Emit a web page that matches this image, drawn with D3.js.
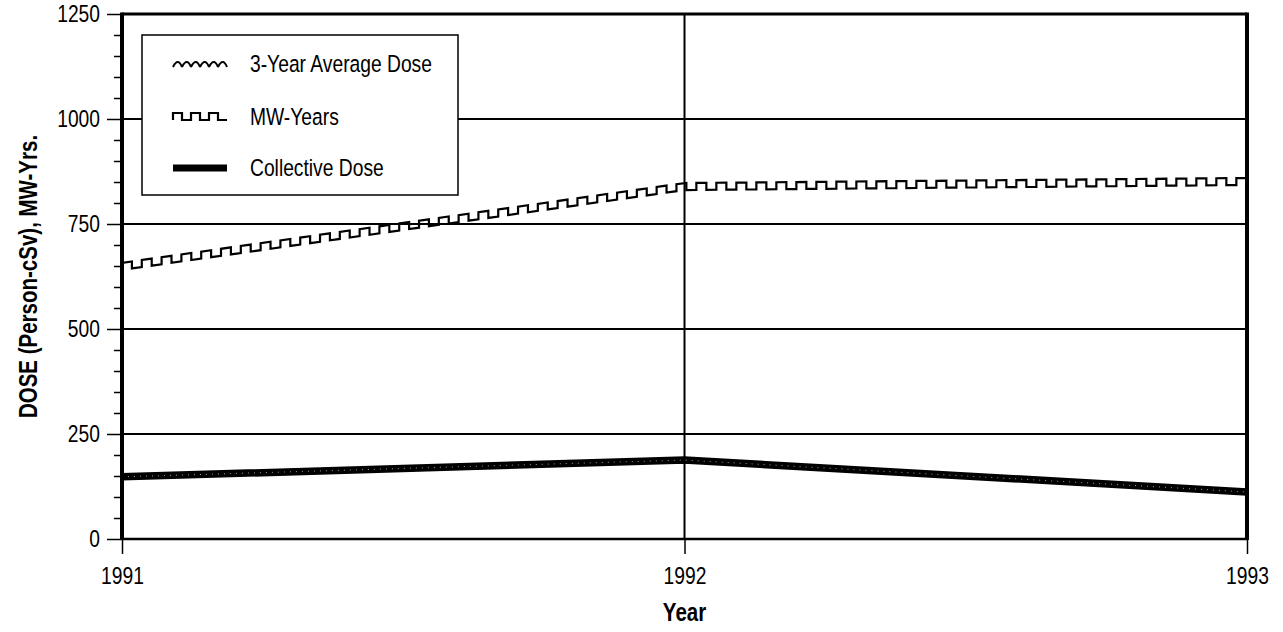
<!DOCTYPE html>
<html>
<head>
<meta charset="utf-8">
<script src="https://cdn.jsdelivr.net/npm/d3@7"></script>
<style>
  body { margin: 0; background: #fff; }
  text { font-family: "Liberation Sans", Arial, sans-serif; fill: #000; }
</style>
</head>
<body>
<div id="chart-area"></div>
<script>
// data
let years = [1991, 1992, 1993];
let collectiveDose = [148, 188, 112];
let mwYears = [648, 838, 850];
let threeYearAvg = [];   // not visible on the chart
let yTicks = [0, 250, 500, 750, 1000, 1250];
let yMinorTicks = d3.range(0, 1251, 50).filter(function(d){ return d % 250 !== 0; });
let legendLabels = ["3-Year Average Dose", "MW-Years", "Collective Dose"];

let width = 1283;
let height = 632;
let narrow = 0.82;   // no narrow face installed, squeeze the text instead

let svg = d3.select("#chart-area")
            .append("svg")
            .attr("width", width)
            .attr("height", height);

let x = d3.scaleLinear().domain([1991, 1993]).range([122, 1247]);
let y = d3.scaleLinear().domain([0, 1250]).range([539, 14]);

// gridlines
svg.append("g")
   .selectAll("line")
   .data(yTicks.filter(function(d){ return d > 0 && d < 1250; }))
   .enter()
   .append("line")
   .attr("x1", x(1991)).attr("x2", x(1993))
   .attr("y1", function(d){ return y(d); })
   .attr("y2", function(d){ return y(d); })
   .attr("stroke", "#000").attr("stroke-width", 2);

svg.append("g")
   .selectAll("line")
   .data([1992])
   .enter()
   .append("line")
   .attr("x1", function(d){ return x(d); })
   .attr("x2", function(d){ return x(d); })
   .attr("y1", y(1250)).attr("y2", y(0))
   .attr("stroke", "#000").attr("stroke-width", 2);

// frame: top and right
svg.append("line").attr("x1", x(1991)).attr("x2", x(1993)).attr("y1", y(1250)).attr("y2", y(1250))
   .attr("stroke", "#000").attr("stroke-width", 3);
svg.append("line").attr("x1", x(1993)).attr("x2", x(1993)).attr("y1", y(1250) - 1.5).attr("y2", y(0) + 1)
   .attr("stroke", "#000").attr("stroke-width", 4);

let line = d3.line()
             .x(function(d, i){ return x(years[i]); })
             .y(function(d){ return y(d); });

// square-wave decoration that follows a path
function squareWave(pathNode, period, amp) {
    let L = pathNode.getTotalLength();
    let h = period / 2;
    let p0 = pathNode.getPointAtLength(0);
    let s = "M" + p0.x + "," + p0.y;
    for (let k = 0; k * h < L; k++) {
        let a = pathNode.getPointAtLength(k * h);
        let b = pathNode.getPointAtLength(Math.min((k + 1) * h, L));
        if (k % 2 === 0) {
            s += "L" + a.x + "," + (a.y - amp) + "L" + b.x + "," + (b.y - amp) + "L" + b.x + "," + b.y;
        } else {
            s += "L" + b.x + "," + b.y;
        }
    }
    return s;
}

// MW-Years
let mwBase = svg.append("path")
   .attr("d", line(mwYears))
   .attr("fill", "none")
   .attr("stroke", "none");
svg.append("path")
   .attr("d", squareWave(mwBase.node(), 20, 7))
   .attr("transform", "translate(0,3)")
   .attr("fill", "none")
   .attr("stroke", "#000")
   .attr("stroke-width", 2.2);

// 3-year average (no visible points)
if (threeYearAvg.length) {
    svg.append("path").attr("d", line(threeYearAvg)).attr("fill", "none").attr("stroke", "#000");
}

// Collective dose
svg.append("path")
   .attr("d", line(collectiveDose))
   .attr("fill", "none")
   .attr("stroke", "#000")
   .attr("stroke-width", 7.5);
svg.append("path")
   .attr("d", line(collectiveDose))
   .attr("fill", "none")
   .attr("stroke", "#fff")
   .attr("stroke-width", 1)
   .attr("stroke-dasharray", "1 5")
   .attr("opacity", 0.6);

// legend
let legend = svg.append("g");
legend.append("rect")
      .attr("x", 142).attr("y", 35)
      .attr("width", 316).attr("height", 160)
      .attr("fill", "#fff")
      .attr("stroke", "#000")
      .attr("stroke-width", 1.5);

let rowY = [64, 117, 168];
legend.selectAll("text")
      .data(legendLabels)
      .enter()
      .append("text")
      .attr("transform", function(d, i){ return "translate(250," + (rowY[i] + 8) + ") scale(" + narrow + ",1)"; })
      .style("font-size", "23.5px")
      .text(function(d){ return d; });

// row 1 symbol: little loops
let loops = "";
for (let i = 0; i < 6; i++) {
    let cx = 177 + i * 9;
    loops += "M" + (cx - 4) + "," + (rowY[0] + 3) + "Q" + (cx + 1) + "," + (rowY[0] - 7) + " " + (cx + 5) + "," + (rowY[0] + 3);
}
legend.append("path").attr("d", loops).attr("fill", "none").attr("stroke", "#000").attr("stroke-width", 2);

// row 2 symbol: square wave
let seg = legend.append("path").attr("d", "M173," + rowY[1] + "L227," + rowY[1]).attr("stroke", "none");
legend.append("path")
      .attr("d", squareWave(seg.node(), 18, 7))
      .attr("transform", "translate(0,3)")
      .attr("fill", "none").attr("stroke", "#000").attr("stroke-width", 2.2);

// row 3 symbol: thick bar
legend.append("line").attr("x1", 173).attr("x2", 227).attr("y1", rowY[2]).attr("y2", rowY[2])
      .attr("stroke", "#000").attr("stroke-width", 7);

// y axis
let yAxis = svg.append("g")
   .attr("transform", "translate(" + x(1991) + ",0)")
   .call(d3.axisLeft(y).tickValues(yTicks).tickSize(15).tickPadding(7).tickFormat(d3.format("d")));
svg.append("g")
   .attr("transform", "translate(" + x(1991) + ",0)")
   .call(d3.axisLeft(y).tickValues(yMinorTicks).tickSize(8).tickFormat(""))
   .call(function(g){ g.select(".domain").remove(); });

// x axis
let xAxis = svg.append("g")
   .attr("transform", "translate(0," + y(0) + ")")
   .call(d3.axisBottom(x).tickValues(years).tickSize(15).tickPadding(13).tickFormat(d3.format("d")));

svg.selectAll(".tick line").attr("stroke", "#000").attr("stroke-width", 1.5);
svg.selectAll(".tick text").style("font-size", "23.5px").attr("fill", "#000");
yAxis.selectAll(".tick text")
     .attr("x", -22 / narrow)
     .attr("transform", "scale(" + narrow + ",1)");
xAxis.selectAll(".tick text")
     .attr("transform", "scale(" + narrow + ",1)");
yAxis.select(".domain").attr("stroke-width", 4).attr("d", "M0," + (y(1250) - 1.5) + "V" + (y(0) + 1));
xAxis.select(".domain").attr("stroke-width", 2.5).attr("d", "M" + x(1991) + ",0H" + x(1993));

// axis titles
svg.append("text")
   .attr("transform", "translate(" + x(1992) + ",621) scale(" + narrow + ",1)")
   .attr("text-anchor", "middle")
   .style("font-size", "25px")
   .style("font-weight", "bold")
   .text("Year");

svg.append("text")
   .attr("transform", "translate(37," + ((y(0) + y(1250)) / 2) + ") rotate(-90) scale(" + narrow + ",1)")
   .attr("text-anchor", "middle")
   .style("font-size", "25px")
   .style("font-weight", "bold")
   .text("DOSE (Person-cSv), MW-Yrs.");
</script>
</body>
</html>
